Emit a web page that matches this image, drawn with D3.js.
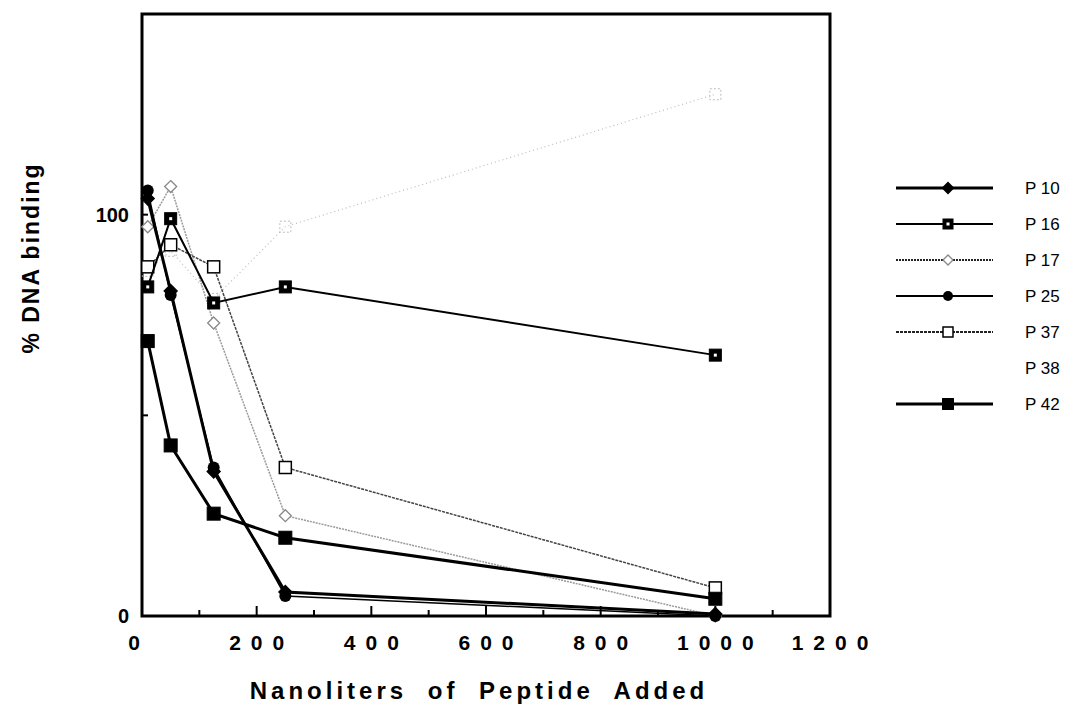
<!DOCTYPE html>
<html>
<head>
<meta charset="utf-8">
<script src="https://cdn.jsdelivr.net/npm/d3@7"></script>
<style>
  body { margin: 0; background: #fff; }
  svg { display: block; font-family: Arial, "Liberation Sans", Helvetica, sans-serif; }
  .tick-label { font-weight: bold; font-size: 21px; letter-spacing: 10px; }
  .axis-title { font-weight: bold; font-size: 24px; }
  .legend-label { font-size: 17px; }
</style>
</head>
<body>
<svg id="chart" width="1075" height="707"></svg>
<script>
// nanoliters of peptide added
var doses = [10, 50, 125, 250, 1000];

// % DNA binding
var p10 = [104, 81, 36, 6, 0.5];
var p16 = [82, 99, 78, 82, 65];
var p17 = [97, 107, 73, 25, 0];
var p25 = [106, 80, 37, 5, 0];
var p37 = [87, 92.5, 87, 37, 7];
var p38 = [86, 91, 79, 97, 130];
var p42 = [68.5, 42.5, 25.5, 19.5, 4.3];

var seriesNames = ['P 10', 'P 16', 'P 17', 'P 25', 'P 37', 'P 38', 'P 42'];

var xTicks = [0, 100, 200, 300, 400, 500, 600, 700, 800, 900, 1000, 1100, 1200];
var xTickLabels = [0, 200, 400, 600, 800, 1000, 1200];
var yTicks = [50, 100];
var yTickLabels = [0, 100];

var styles = {
  'P 10': { stroke: '#000', width: 3, dash: null, marker: 'diamond', fill: '#000', size: 13, legend: true },
  'P 16': { stroke: '#000', width: 2, dash: null, marker: 'dotsquare', fill: '#000', size: 12, legend: true },
  'P 17': { stroke: '#9a9a9a', width: 1.5, dash: '2,1', marker: 'diamond', fill: '#fff', size: 12, legend: true },
  'P 25': { stroke: '#000', width: 1.5, dash: null, marker: 'circle', fill: '#000', size: 12, legend: true },
  'P 37': { stroke: '#444', width: 1.5, dash: '3,1', marker: 'square', fill: '#fff', size: 12, legend: true },
  'P 38': { stroke: '#bdbdbd', width: 1.2, dash: '1,3', marker: 'square', fill: 'none', size: 11, legend: false },
  'P 42': { stroke: '#000', width: 3, dash: null, marker: 'square', fill: '#000', size: 13, legend: true }
};

function buildSeries() {
  var values = [p10, p16, p17, p25, p37, p38, p42];
  return seriesNames.map(function(name, i) {
    return {
      name: name,
      points: doses.map(function(d, j) { return { x: d, y: values[i][j] }; })
    };
  });
}

function drawMarker(sel, st) {
  var s = st.size;
  if (st.marker === 'diamond') {
    sel.append('path')
      .attr('d', 'M0,' + (-s / 2) + 'L' + (s / 2) + ',0L0,' + (s / 2) + 'L' + (-s / 2) + ',0Z')
      .attr('fill', st.fill)
      .attr('stroke', st.stroke === '#000' ? '#000' : '#888')
      .attr('stroke-width', 1.3)
    ;
  } else if (st.marker === 'circle') {
    sel.append('circle')
      .attr('r', s / 2)
      .attr('fill', st.fill)
    ;
  } else {
    sel.append('rect')
      .attr('x', -s / 2).attr('y', -s / 2)
      .attr('width', s).attr('height', s)
      .attr('fill', st.fill)
      .attr('stroke', st.fill === 'none' ? st.stroke : '#000')
      .attr('stroke-width', st.fill === '#fff' ? 1.5 : 1)
      .attr('stroke-dasharray', st.fill === 'none' ? '2,2' : null)
    ;
    if (st.marker === 'dotsquare') {
      sel.append('rect')
        .attr('x', -1.5).attr('y', -1.5)
        .attr('width', 3).attr('height', 3)
        .attr('fill', '#fff')
      ;
    }
  }
}

function drawChart() {
  var svg = d3.select('#chart');

  var x = d3.scaleLinear().domain([0, 1200]).range([142, 830]);
  var y = d3.scaleLinear().domain([0, 150]).range([616, 14]);

  var series = buildSeries();

  // frame around the plot
  svg.append('rect')
    .attr('x', x(0)).attr('y', y(150))
    .attr('width', x(1200) - x(0))
    .attr('height', y(0) - y(150))
    .attr('fill', 'none')
    .attr('stroke', '#000')
    .attr('stroke-width', 3)
  ;

  // inward ticks
  svg.append('g')
    .selectAll('line')
    .data(xTicks.slice(1, -1))
    .enter()
    .append('line')
    .attr('x1', function(d) { return x(d); })
    .attr('x2', function(d) { return x(d); })
    .attr('y1', y(0))
    .attr('y2', function(d) { return y(0) - (d % 200 === 0 ? 10 : 6); })
    .attr('stroke', '#000')
    .attr('stroke-width', 2)
  ;

  svg.append('g')
    .selectAll('line')
    .data(yTicks)
    .enter()
    .append('line')
    .attr('x1', x(0))
    .attr('x2', x(0) + 6)
    .attr('y1', function(d) { return y(d); })
    .attr('y2', function(d) { return y(d); })
    .attr('stroke', '#000')
    .attr('stroke-width', 2)
  ;

  svg.append('g')
    .selectAll('text')
    .data(xTickLabels)
    .enter()
    .append('text')
    .attr('class', 'tick-label')
    .attr('x', function(d) { return x(d) + 5 - (d === 0 ? 8 : 0); })
    .attr('y', 650)
    .attr('text-anchor', 'middle')
    .text(function(d) { return d; })
  ;

  svg.append('g')
    .selectAll('text')
    .data(yTickLabels)
    .enter()
    .append('text')
    .attr('class', 'tick-label')
    .style('letter-spacing', '0px')
    .style('font-size', '20px')
    .attr('x', 129)
    .attr('y', function(d) { return y(d) + 7; })
    .attr('text-anchor', 'end')
    .text(function(d) { return d; })
  ;

  // titles
  svg.append('text')
    .attr('class', 'axis-title')
    .attr('x', 479)
    .attr('y', 699)
    .attr('text-anchor', 'middle')
    .style('letter-spacing', '4px')
    .style('word-spacing', '10px')
    .text('Nanoliters of Peptide Added')
  ;

  svg.append('text')
    .attr('class', 'axis-title')
    .style('font-size', '23px')
    .attr('transform', 'translate(39,258) rotate(-90)')
    .attr('text-anchor', 'middle')
    .style('letter-spacing', '2px')
    .text('% DNA binding')
  ;

  var line = d3.line()
    .x(function(d) { return x(d.x); })
    .y(function(d) { return y(d.y); })
  ;

  // faint series first, dark ones on top, P10 last so its diamonds show
  var order = ['P 38', 'P 17', 'P 37', 'P 16', 'P 42', 'P 25', 'P 10'];

  order.forEach(function(name) {
    var s = series.filter(function(d) { return d.name === name; })[0];
    var st = styles[name];
    var g = svg.append('g');

    g.append('path')
      .datum(s.points)
      .attr('d', line)
      .attr('fill', 'none')
      .attr('stroke', st.stroke)
      .attr('stroke-width', st.width)
      .attr('stroke-dasharray', st.dash)
    ;

    g.selectAll('g.pt')
      .data(s.points)
      .enter()
      .append('g')
      .attr('class', 'pt')
      .attr('transform', function(d) { return 'translate(' + x(d.x) + ',' + y(d.y) + ')'; })
      .each(function() { drawMarker(d3.select(this), st); })
    ;
  });

  // legend
  var legend = svg.append('g');
  var rows = legend.selectAll('g')
    .data(seriesNames)
    .enter()
    .append('g')
    .attr('transform', function(d, i) { return 'translate(0,' + (188 + i * 36) + ')'; })
  ;

  rows.each(function(name) {
    var st = styles[name];
    var r = d3.select(this);
    if (!st.legend) return;
    r.append('line')
      .attr('x1', 896).attr('x2', 993)
      .attr('y1', 0).attr('y2', 0)
      .attr('stroke', st.stroke === '#9a9a9a' || st.stroke === '#444' ? '#222' : '#000')
      .attr('stroke-width', st.width > 2 ? 3 : 2)
      .attr('stroke-dasharray', st.dash)
    ;
    var m = r.append('g').attr('transform', 'translate(948,0)');
    drawMarker(m, { marker: st.marker, fill: st.fill, stroke: st.stroke, size: st.size - 2 });
  });

  rows.append('text')
    .attr('class', 'legend-label')
    .attr('x', 1025)
    .attr('y', 6)
    .text(function(d) { return d; })
  ;
}

drawChart();
</script>
</body>
</html>
